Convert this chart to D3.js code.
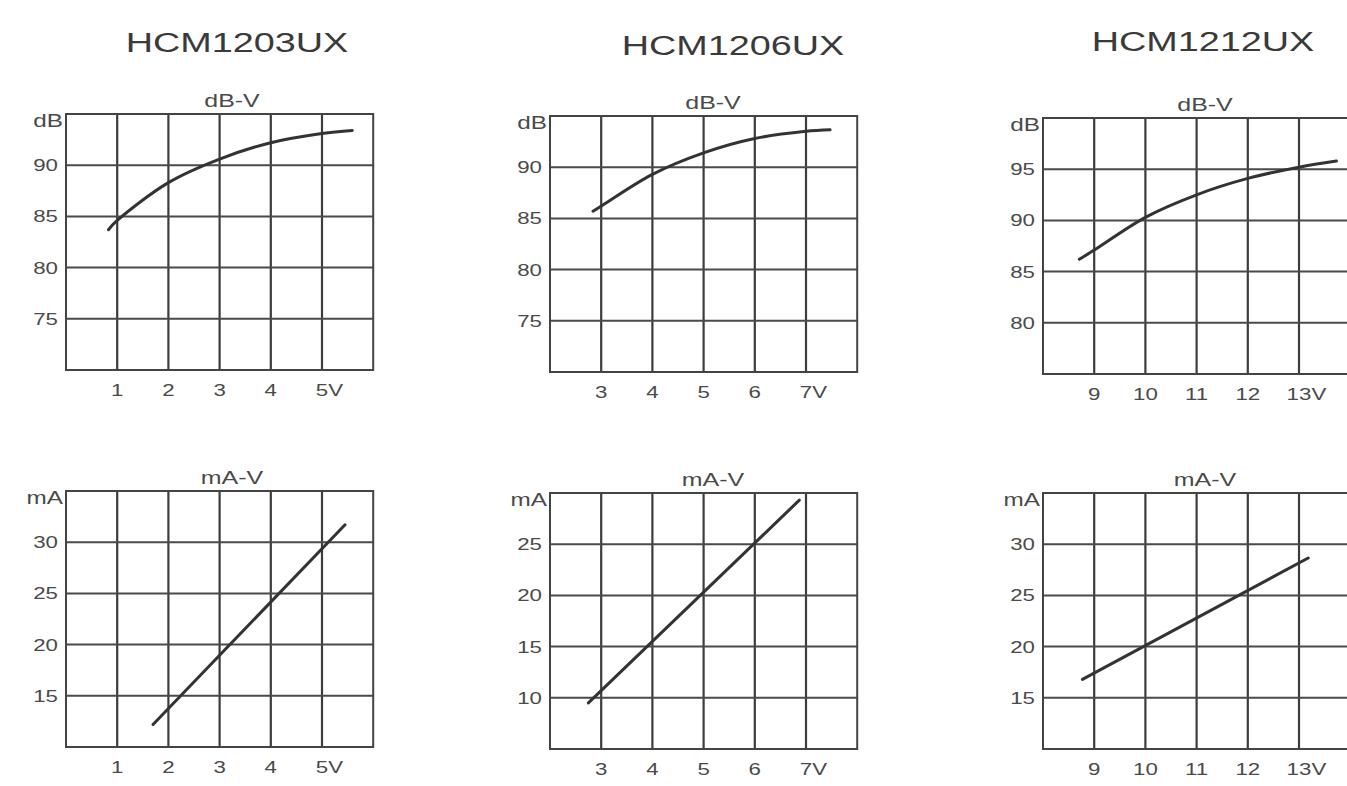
<!DOCTYPE html>
<html>
<head>
<meta charset="utf-8">
<script src="https://cdn.jsdelivr.net/npm/d3@7"></script>
<style>
  body { margin: 0; background: #fff; }
  text { font-family: "Liberation Sans", Arial, sans-serif; fill: #4a4a4a; }
</style>
</head>
<body>
<div id="chart"></div>
<script>
// models, one column each
var models = ['HCM1203UX', 'HCM1206UX', 'HCM1212UX'];

// voltage axis: range and ticks per model
var voltRange = [[0, 6], [2, 8], [8, 14]];
var voltTicks = [[1, 2, 3, 4, 5], [3, 4, 5, 6, 7], [9, 10, 11, 12, 13]];

// dB axis
var dbRange = [[70, 95], [70, 95], [75, 100]];
var dbTicks = [[75, 80, 85, 90], [75, 80, 85, 90], [80, 85, 90, 95]];

// mA axis
var maRange = [[10, 35], [5, 30], [10, 35]];
var maTicks = [[15, 20, 25, 30], [10, 15, 20, 25], [15, 20, 25, 30]];

// dB-V curves
var dbVolts1203 = [0.83, 1, 2, 3, 4, 5, 5.59];
var dbVals1203 = [83.7, 84.6, 88.3, 90.6, 92.2, 93.1, 93.4];
var dbVolts1206 = [2.84, 3, 4, 5, 6, 7, 7.47];
var dbVals1206 = [85.7, 86.2, 89.3, 91.4, 92.8, 93.5, 93.65];
var dbVolts1212 = [8.71, 9, 10, 11, 12, 13, 13.73];
var dbVals1212 = [86.2, 87.1, 90.3, 92.5, 94.1, 95.2, 95.8];

// mA-V lines
var maVolts1203 = [1.7, 5.45];
var maVals1203 = [12.2, 31.7];
var maVolts1206 = [2.75, 6.87];
var maVals1206 = [9.5, 29.3];
var maVolts1212 = [8.77, 13.18];
var maVals1212 = [16.8, 28.65];

var dbCurves = [[dbVolts1203, dbVals1203], [dbVolts1206, dbVals1206], [dbVolts1212, dbVals1212]];
var maCurves = [[maVolts1203, maVals1203], [maVolts1206, maVals1206], [maVolts1212, maVals1212]];

// layout
var W = 1347, H = 786;
var cell = 51.2;
var colLeft = [66, 550, 1043];
var topRowTop = [114, 116, 118];
var botRowTop = [491, 493, 493];
var titleX = [237, 733, 1203];
var titleY = [52, 55, 51];
var subX = [232, 713, 1205];
var stretch = 1.35;   // the scan is wider than tall

var svg = d3.select('#chart').append('svg')
    .attr('width', W)
    .attr('height', H);

//stretched text helper
function sText(g, x, y, str, size, anchor) {
    return g.append('text')
        .attr('transform', 'translate(' + x + ',' + y + ') scale(' + stretch + ',1)')
        .attr('text-anchor', anchor)
        .style('font-size', size + 'px')
        .text(str);
}

function drawPanel(col, top, yDomain, yTicks, unit, sub, curve) {
    var left = colLeft[col];
    var x = d3.scaleLinear().domain(voltRange[col]).range([left, left + 6 * cell]);
    var y = d3.scaleLinear().domain(yDomain).range([top + 5 * cell, top]);
    var g = svg.append('g');

    //grid
    g.selectAll('line.v')
        .data(voltTicks[col])
        .enter().append('line')
        .attr('x1', function(d) { return x(d); })
        .attr('x2', function(d) { return x(d); })
        .attr('y1', y.range()[1])
        .attr('y2', y.range()[0])
        .attr('stroke', '#3c3c3c')
        .attr('stroke-width', 2.2);

    g.selectAll('line.h')
        .data(yTicks)
        .enter().append('line')
        .attr('x1', x.range()[0])
        .attr('x2', x.range()[1])
        .attr('y1', function(d) { return y(d); })
        .attr('y2', function(d) { return y(d); })
        .attr('stroke', '#4a4a4a')
        .attr('stroke-width', 2);

    g.append('rect')
        .attr('x', x.range()[0])
        .attr('y', y.range()[1])
        .attr('width', x.range()[1] - x.range()[0])
        .attr('height', y.range()[0] - y.range()[1])
        .attr('fill', 'none')
        .attr('stroke', '#444')
        .attr('stroke-width', 2);

    //curve
    var pts = d3.zip(curve[0], curve[1]);
    var line = d3.line()
        .x(function(d) { return x(d[0]); })
        .y(function(d) { return y(d[1]); })
        .curve(d3.curveCatmullRom.alpha(0.5));
    g.append('path')
        .attr('d', line(pts))
        .attr('fill', 'none')
        .attr('stroke', '#333')
        .attr('stroke-width', 3)
        .attr('stroke-linecap', 'round');

    //y labels
    yTicks.forEach(function(t) {
        sText(g, left - 8, y(t), t, 16.5, 'end').attr('dy', '0.36em');
    });
    sText(g, left - 3, top + 13, unit, 18, 'end');

    //x labels
    var bottom = y.range()[0];
    voltTicks[col].forEach(function(t, i) {
        var lbl = sText(g, x(t), bottom + 26, t, 16.5, 'middle');
        if (i === voltTicks[col].length - 1) {
            var w = lbl.node().getComputedTextLength() * stretch;
            sText(g, x(t) + w / 2, bottom + 26, 'V', 16.5, 'start');
        }
    });

    //subtitle
    sText(g, subX[col], top - 7, sub, 18.5, 'middle');
}

models.forEach(function(m, i) {
    sText(svg, titleX[i], titleY[i], m, 28, 'middle').style('fill', '#3a3a3a');
    drawPanel(i, topRowTop[i], dbRange[i], dbTicks[i], 'dB', 'dB-V', dbCurves[i]);
    drawPanel(i, botRowTop[i], maRange[i], maTicks[i], 'mA', 'mA-V', maCurves[i]);
});
</script>
</body>
</html>
